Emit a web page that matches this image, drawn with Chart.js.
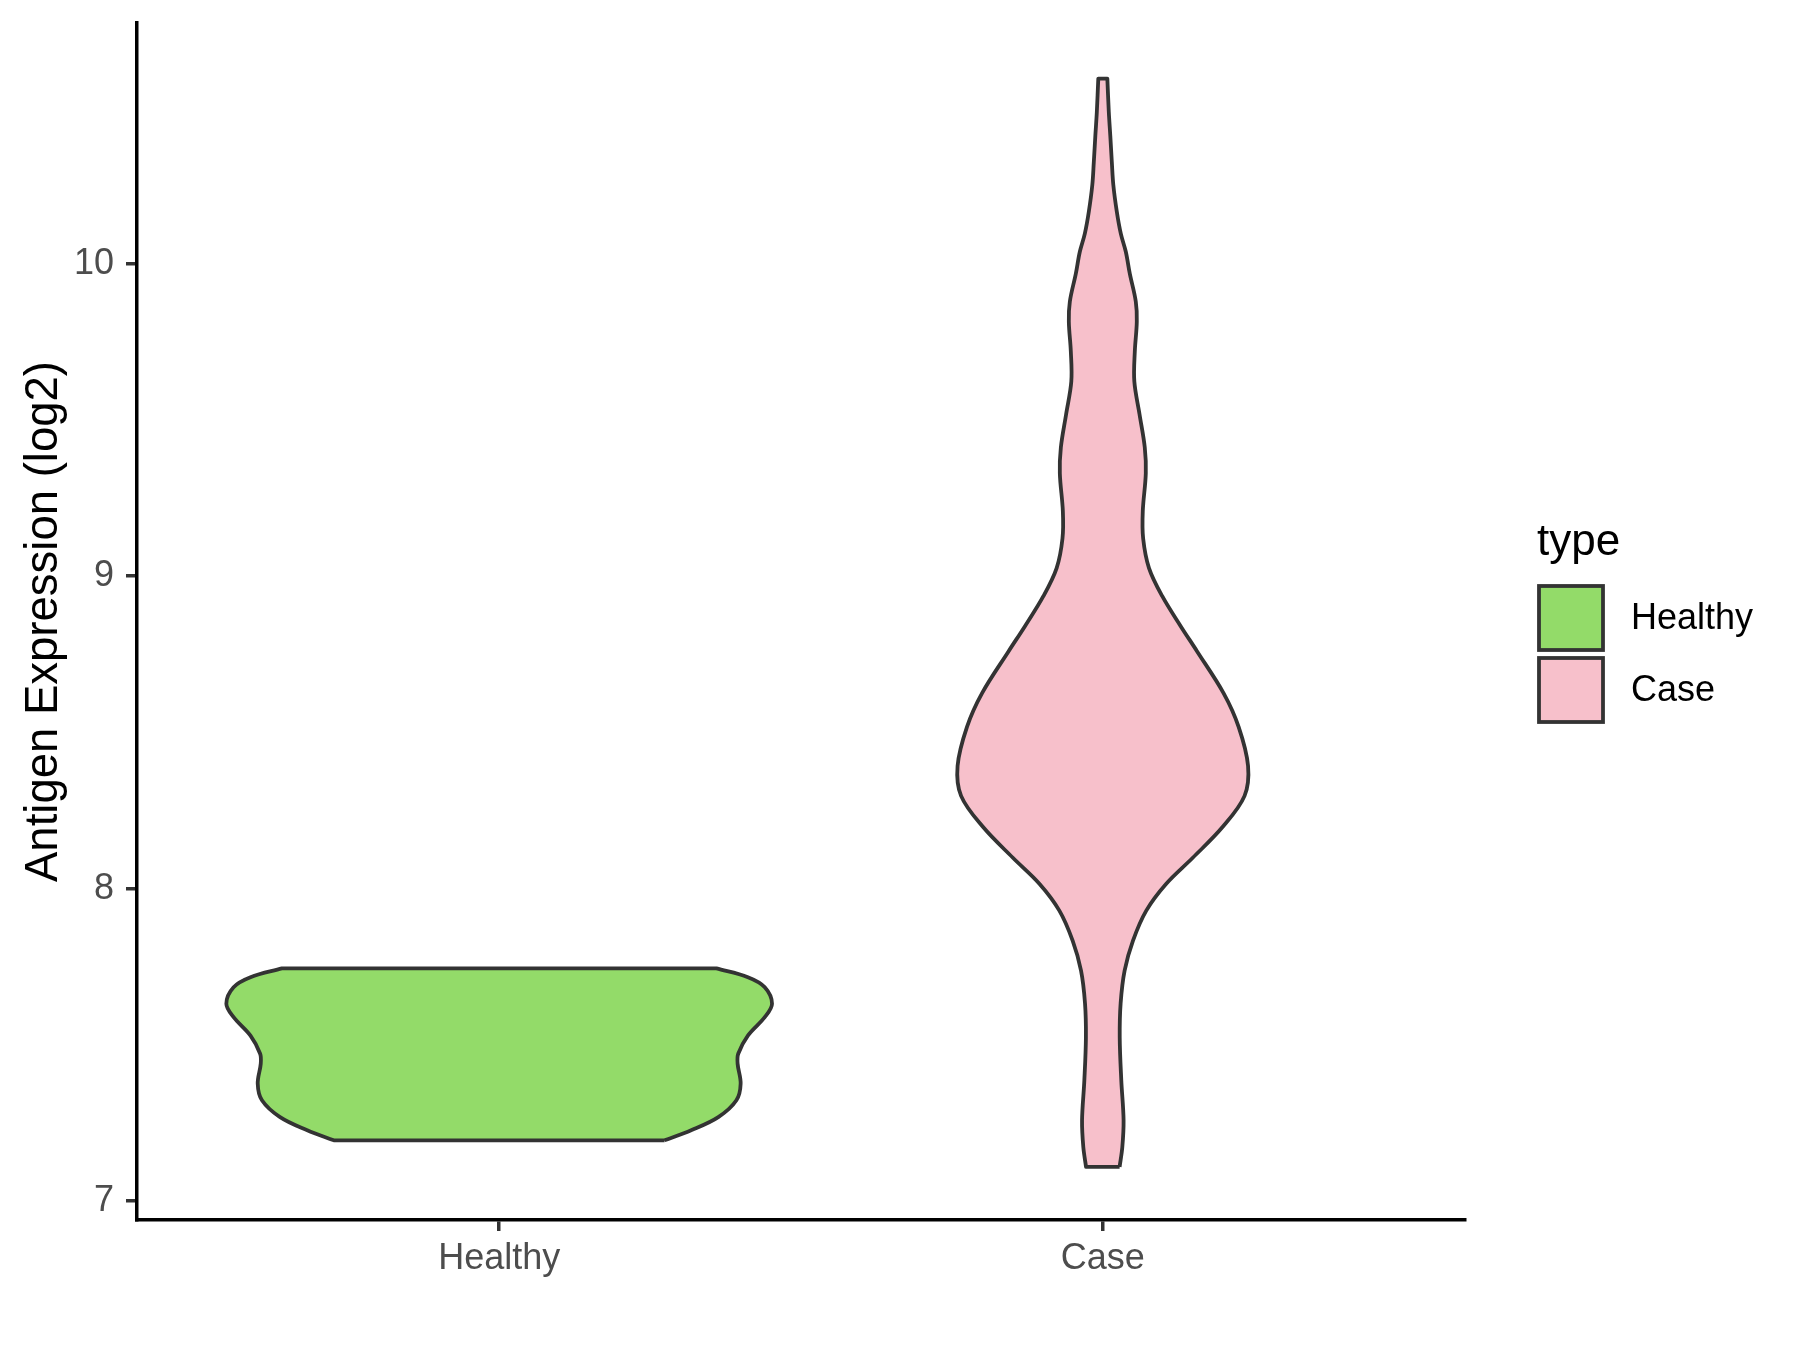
<!DOCTYPE html>
<html>
<head>
<meta charset="utf-8">
<script src="https://cdn.jsdelivr.net/npm/chart.js@4.4.1/dist/chart.umd.min.js"></script>
<style>
  html, body { margin: 0; padding: 0; background: #fff; }
  #wrap { width: 1800px; height: 1350px; }
</style>
</head>
<body>
<div id="wrap"><canvas id="chart" width="1800" height="1350"></canvas></div>
<script>
const categories = ['Healthy', 'Case'];
const fillColors = ['#93DB69', '#F7C0CB'];
const yTicks = [7, 8, 9, 10];

// violin outlines: expression value and half width (category units)
const healthyY = [7.195, 7.227, 7.269, 7.323, 7.376, 7.440, 7.472, 7.530, 7.589, 7.632, 7.685, 7.717, 7.745];
const healthyHalfWidth = [0.274, 0.318, 0.363, 0.393, 0.400, 0.395, 0.396, 0.412, 0.440, 0.452, 0.440, 0.412, 0.360];

const caseY = [7.110, 7.173, 7.259, 7.387, 7.524, 7.633, 7.738, 7.834, 7.930, 8.016, 8.099, 8.198, 8.297, 8.393,
  8.518, 8.626, 8.760, 8.840, 8.936, 9.026, 9.121, 9.208, 9.329, 9.412, 9.518, 9.623, 9.719, 9.815, 9.879,
  9.968, 10.038, 10.096, 10.166, 10.252, 10.326, 10.409, 10.486, 10.592];
const caseHalfWidth = [0.0278, 0.0323, 0.0344, 0.0306, 0.0280, 0.0295, 0.0361, 0.0500, 0.0720, 0.1051, 0.1490, 0.1987,
  0.2348, 0.2406, 0.2250, 0.2000, 0.1560, 0.1290, 0.0985, 0.0765, 0.0668, 0.0662, 0.0712, 0.0695, 0.0608, 0.0522,
  0.0530, 0.0563, 0.0546, 0.0447, 0.0381, 0.0298, 0.0232, 0.0174, 0.0149, 0.0124, 0.0099, 0.0075];

const FONT = '"Liberation Sans", Arial, sans-serif';

// right side bottom->top, then left side top->bottom.
// end points are given twice so the flat top and bottom stay straight with sharp corners
function outline(center, ys, ws) {
  const n = ys.length - 1;
  const pts = [];
  pts.push({ x: center + ws[0], y: ys[0] });
  for (let i = 0; i <= n; i++) pts.push({ x: center + ws[i], y: ys[i] });
  pts.push({ x: center + ws[n], y: ys[n] });
  pts.push({ x: center - ws[n], y: ys[n] });
  for (let i = n; i >= 0; i--) pts.push({ x: center - ws[i], y: ys[i] });
  pts.push({ x: center - ws[0], y: ys[0] });
  pts.push({ x: center + ws[0], y: ys[0] });
  return pts;
}

const violins = [[healthyY, healthyHalfWidth], [caseY, caseHalfWidth]];

const datasets = categories.map((name, i) => ({
  label: name,
  data: outline(i + 1, violins[i][0], violins[i][1]),
  showLine: true,
  fill: 'shape',
  backgroundColor: fillColors[i],
  borderColor: '#333333',
  borderWidth: 3.8,
  borderJoinStyle: 'round',
  pointRadius: 0,
  tension: 0.35
}));

const legendPlugin = {
  id: 'typeLegend',
  afterDraw(chart) {
    const ctx = chart.ctx;
    ctx.save();
    ctx.fillStyle = '#000';
    ctx.font = '44px ' + FONT;
    ctx.textBaseline = 'alphabetic';
    ctx.fillText('type', 1537, 555);
    chart.data.datasets.forEach((ds, i) => {
      const top = 586 + i * 72;
      ctx.fillStyle = ds.backgroundColor;
      ctx.fillRect(1539, top, 64, 64);
      ctx.strokeStyle = ds.borderColor;
      ctx.lineWidth = 3.8;
      ctx.strokeRect(1539, top, 64, 64);
      ctx.fillStyle = '#000';
      ctx.font = '36px ' + FONT;
      ctx.textBaseline = 'middle';
      ctx.fillText(ds.label, 1631, top + 33);
    });
    ctx.restore();
  }
};

const tickGrid = { display: true, drawOnChartArea: false, drawTicks: true, tickLength: 11, color: '#333333', lineWidth: 3.5 };
const axisBorder = { display: true, color: '#000000', width: 3.5 };

new Chart(document.getElementById('chart'), {
  type: 'scatter',
  data: { datasets },
  options: {
    responsive: false,
    animation: false,
    devicePixelRatio: 1,
    layout: { padding: { left: 0, top: 23, right: 335, bottom: 0 } },
    plugins: { legend: { display: false }, tooltip: { enabled: false } },
    scales: {
      x: {
        type: 'linear', min: 0.4, max: 2.6,
        afterBuildTicks: s => { s.ticks = categories.map((c, i) => ({ value: i + 1 })); },
        ticks: {
          callback: v => categories[v - 1],
          color: '#4D4D4D', font: { family: FONT, size: 36 }, padding: 6,
          maxRotation: 0, autoSkip: false
        },
        grid: tickGrid,
        border: axisBorder,
        afterFit: s => { s.height = 130; s.paddingLeft = 0; s.paddingRight = 0; }
      },
      y: {
        type: 'linear', min: 6.94, max: 10.77,
        afterBuildTicks: s => { s.ticks = yTicks.map(v => ({ value: v })); },
        ticks: { color: '#4D4D4D', font: { family: FONT, size: 36 }, padding: 12 },
        grid: tickGrid,
        border: axisBorder,
        title: {
          display: true, text: 'Antigen Expression (log2)', color: '#000',
          font: { family: FONT, size: 45.5 }, padding: { top: 17, bottom: 0 }
        },
        afterFit: s => { s.width = 137; s.paddingTop = 0; s.paddingBottom = 0; }
      }
    }
  },
  plugins: [legendPlugin]
});
</script>
</body>
</html>
